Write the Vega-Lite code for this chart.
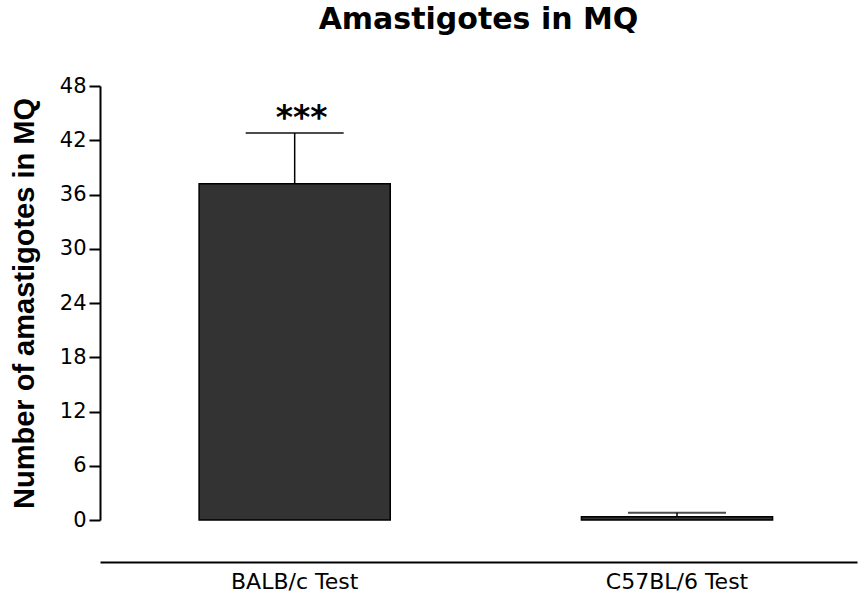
{
  "$schema": "https://vega.github.io/schema/vega-lite/v6.json",
  "width": 757,
  "height": 434,
  "autosize": {"type": "none"},
  "padding": {"left": 100, "top": 86, "right": 1, "bottom": 76},
  "background": "white",
  "config": {
    "view": {"stroke": null},
    "font": "DejaVu Sans"
  },
  "title": {
    "text": "Amastigotes in MQ",
    "font": "DejaVu Sans",
    "fontSize": 30,
    "fontWeight": "bold",
    "color": "black",
    "anchor": "middle",
    "offset": 40
  },
  "data": {
    "values": [
      {"group": "BALB/c Test", "mean": 37.2, "upper": 42.8, "sig": "***"},
      {"group": "C57BL/6 Test", "mean": 0.35, "upper": 0.8, "sig": ""}
    ]
  },
  "encoding": {
    "x": {
      "field": "group",
      "type": "nominal",
      "sort": null,
      "scale": {"paddingInner": 0.5, "paddingOuter": 0.24, "align": 0.54},
      "axis": {
        "title": null,
        "orient": "bottom",
        "offset": 42,
        "domainColor": "black",
        "domainWidth": 2,
        "ticks": false,
        "labelAngle": 0,
        "labelFontSize": 22,
        "labelColor": "black",
        "labelPadding": 9,
        "labelFont": "DejaVu Sans"
      }
    }
  },
  "layer": [
    {
      "mark": {"type": "rule", "color": "black", "strokeWidth": 1.5},
      "encoding": {
        "y": {"field": "mean", "type": "quantitative"},
        "y2": {"field": "upper"}
      }
    },
    {
      "mark": {"type": "tick", "color": "black", "size": 98, "thickness": 2, "orient": "horizontal"},
      "encoding": {
        "y": {"field": "upper", "type": "quantitative"}
      }
    },
    {
      "mark": {"type": "bar", "color": "#333333", "stroke": "black", "strokeWidth": 1.5},
      "encoding": {
        "y": {
          "field": "mean",
          "type": "quantitative",
          "scale": {"domain": [0, 48], "nice": false},
          "axis": {
            "title": "Number of amastigotes in MQ",
            "titleFont": "Liberation Sans",
            "titleFontSize": 29,
            "titleFontWeight": "bold",
            "titleColor": "black",
            "titlePadding": 20,
            "values": [0, 6, 12, 18, 24, 30, 36, 42, 48],
            "grid": false,
            "domainColor": "black",
            "domainWidth": 2,
            "tickColor": "black",
            "tickWidth": 2,
            "tickSize": 11,
            "labelFontSize": 21,
            "labelColor": "black",
            "labelPadding": 3,
            "labelFont": "DejaVu Sans"
          }
        }
      }
    },
    {
      "mark": {"type": "text", "fontSize": 33, "font": "DejaVu Sans", "fontWeight": "bold", "color": "black", "dx": 7, "dy": -4, "baseline": "alphabetic"},
      "encoding": {
        "y": {"field": "upper", "type": "quantitative"},
        "text": {"field": "sig"}
      }
    }
  ]
}
